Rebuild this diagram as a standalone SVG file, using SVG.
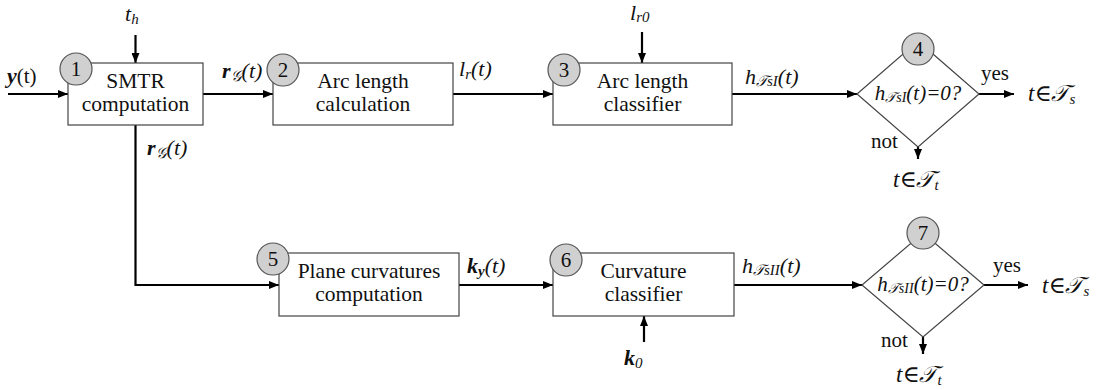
<svg xmlns="http://www.w3.org/2000/svg" width="1103" height="390" viewBox="0 0 1103 390">
<style>
text{font-family:"Liberation Serif","Times New Roman","DejaVu Serif",serif;font-size:21px;fill:#111}
.box{fill:#fff;stroke:#444;stroke-width:1.2}
.num{fill:#d0d0d0;stroke:#555;stroke-width:1.2}
.dia{fill:#fff;stroke:#444;stroke-width:1.2}
.c{fill:none;stroke:#000;stroke-width:2.2}
.m{font-style:italic;font-size:22px}
.b{font-weight:bold;font-style:italic;font-size:22px}
.s{font-size:15px}
.mid{text-anchor:middle}
.bt{font-size:21.5px}
.dt{font-size:21px;font-style:italic}
.ds{font-size:14px}
.el{font-size:23px;font-style:italic}
</style>
<defs>
<marker id="ah" markerUnits="userSpaceOnUse" markerWidth="10" markerHeight="8" refX="10" refY="4" orient="auto">
<path d="M0,0 L10,4 L0,8 z" fill="#000"/>
</marker>
</defs>
<rect width="1103" height="390" fill="#fff"/>
<g id="connectors">
<path class="c" d="M8,94 H68" marker-end="url(#ah)"/>
<path class="c" d="M135.5,35 V63" marker-end="url(#ah)"/>
<path class="c" d="M203,94 H273" marker-end="url(#ah)"/>
<path class="c" d="M453,94 H553" marker-end="url(#ah)"/>
<path class="c" d="M642,32 V63" marker-end="url(#ah)"/>
<path class="c" d="M732,94 H857" marker-end="url(#ah)"/>
<path class="c" d="M979,94 H1014" marker-end="url(#ah)"/>
<path class="c" d="M918,147 V159" marker-end="url(#ah)"/>
<path class="c" d="M135.5,125 V285 H279" marker-end="url(#ah)"/>
<path class="c" d="M459,285 H553" marker-end="url(#ah)"/>
<path class="c" d="M644,342 V316" marker-end="url(#ah)"/>
<path class="c" d="M734,285 H862" marker-end="url(#ah)"/>
<path class="c" d="M984,285 H1028" marker-end="url(#ah)"/>
<path class="c" d="M923,337 V354" marker-end="url(#ah)"/>
</g>
<g id="labels">
<text x="7" y="83"><tspan class="b">y</tspan>(t)</text>
<text x="125" y="21" class="m">t<tspan class="s" dy="3">h</tspan></text>
<text x="222" y="78"><tspan class="b">r</tspan><tspan class="s m" dy="3">𝒢</tspan><tspan class="m" dy="-3">(t)</tspan></text>
<text x="147" y="155"><tspan class="b">r</tspan><tspan class="s m" dy="3">𝒢</tspan><tspan class="m" dy="-3">(t)</tspan></text>
<text x="459" y="76" class="m">l<tspan class="s" dy="3">r</tspan><tspan dy="-3">(t)</tspan></text>
<text x="630" y="20" class="m">l<tspan class="s" dy="2">r0</tspan></text>
<text x="745" y="84" class="m">h<tspan class="s" dy="2">𝒯sI</tspan><tspan dy="-2">(t)</tspan></text>
<text x="467" y="273"><tspan class="b">k</tspan><tspan class="s b" dy="3">y</tspan><tspan class="m" dy="-3">(t)</tspan></text>
<text x="742" y="273" class="m">h<tspan class="s" dy="2">𝒯sII</tspan><tspan dy="-2">(t)</tspan></text>
<text x="624" y="365"><tspan class="b">k</tspan><tspan class="s m" dy="3">0</tspan></text>
<text x="981" y="80">yes</text>
<text x="871" y="148">not</text>
<text x="1028" y="101" class="el">t∈𝒯<tspan class="s" dy="3">s</tspan></text>
<text x="893" y="187" class="el">t∈𝒯<tspan class="s" dy="3">t</tspan></text>
<text x="993" y="272">yes</text>
<text x="881" y="347">not</text>
<text x="1042" y="293" class="el">t∈𝒯<tspan class="s" dy="3">s</tspan></text>
<text x="896" y="382" class="el">t∈𝒯<tspan class="s" dy="3">t</tspan></text>
</g>
<g id="node1">
<rect class="box" x="68" y="63" width="135" height="62"/>
<text class="mid bt" x="135.5" y="88">SMTR</text>
<text class="mid bt" x="135.5" y="111">computation</text>
<circle class="num" cx="76" cy="69" r="16"/>
<text class="mid" x="76" y="76">1</text>
</g>
<g id="node2">
<rect class="box" x="273" y="63" width="180" height="62"/>
<text class="mid bt" x="363" y="88">Arc length</text>
<text class="mid bt" x="363" y="111">calculation</text>
<circle class="num" cx="283" cy="70" r="16"/>
<text class="mid" x="283" y="77">2</text>
</g>
<g id="node3">
<rect class="box" x="553" y="63" width="179" height="62"/>
<text class="mid bt" x="642.5" y="88">Arc length</text>
<text class="mid bt" x="642.5" y="111">classifier</text>
<circle class="num" cx="564" cy="70" r="16"/>
<text class="mid" x="564" y="77">3</text>
</g>
<g id="node4">
<polygon class="dia" points="918,41 979,94 918,147 857,94"/>
<text class="mid dt" x="918" y="100">h<tspan class="ds" dy="2">𝒯sI</tspan><tspan dy="-2">(t)=0?</tspan></text>
<circle class="num" cx="918" cy="49" r="16"/>
<text class="mid" x="918" y="56">4</text>
</g>
<g id="node5">
<rect class="box" x="279" y="253" width="180" height="63"/>
<text class="mid bt" x="369" y="278">Plane curvatures</text>
<text class="mid bt" x="369" y="301">computation</text>
<circle class="num" cx="273" cy="259" r="16"/>
<text class="mid" x="273" y="266">5</text>
</g>
<g id="node6">
<rect class="box" x="553" y="253" width="181" height="63"/>
<text class="mid bt" x="643.5" y="278">Curvature</text>
<text class="mid bt" x="643.5" y="301">classifier</text>
<circle class="num" cx="566" cy="260" r="16"/>
<text class="mid" x="566" y="267">6</text>
</g>
<g id="node7">
<polygon class="dia" points="923,233 984,285 923,337 862,285"/>
<text class="mid dt" x="923" y="291">h<tspan class="ds" dy="2">𝒯sII</tspan><tspan dy="-2">(t)=0?</tspan></text>
<circle class="num" cx="923" cy="233" r="16"/>
<text class="mid" x="923" y="240">7</text>
</g>
</svg>
